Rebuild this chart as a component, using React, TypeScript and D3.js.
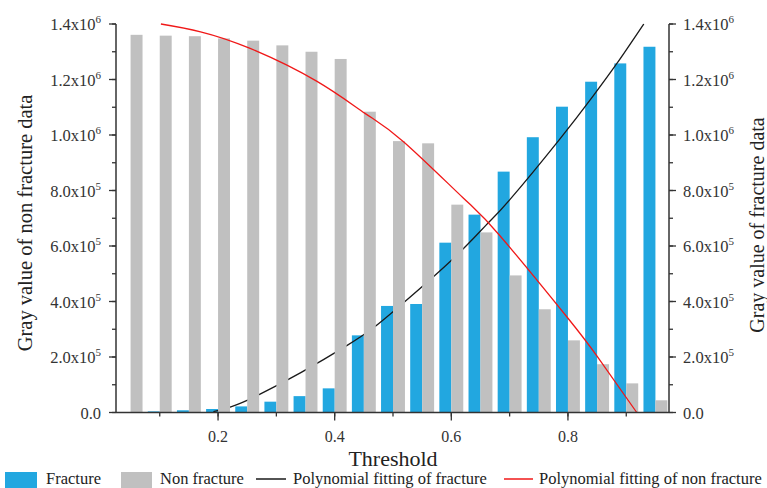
import React from 'react';
import * as d3 from 'd3';

const thresholds = [0.05, 0.1, 0.15, 0.2, 0.25, 0.3, 0.35, 0.4, 0.45, 0.5, 0.55, 0.6, 0.65, 0.7, 0.75, 0.8, 0.85, 0.9, 0.95];
const fracture = [1500, 4000, 8000, 12600, 22000, 39000, 59000, 87000, 278000, 384000, 391000, 612000, 713000, 868000, 992000, 1102000, 1192000, 1258000, 1318000];
const nonFracture = [1361000, 1358000, 1356000, 1348000, 1340000, 1323000, 1300000, 1274000, 1084000, 978000, 970000, 749000, 649000, 494000, 372000, 260000, 174000, 105000, 44000];

const fitFractureX = [0.192, 0.272, 0.42, 0.5, 0.598, 0.66, 0.7, 0.786, 0.843, 0.883, 0.93];
const fitFractureY = [3000, 66000, 240000, 363000, 544000, 676000, 766000, 985000, 1140000, 1255000, 1400000];
const fitNonX = [0.102, 0.17, 0.255, 0.369, 0.452, 0.518, 0.62, 0.683, 0.798, 0.852, 0.918];
const fitNonY = [1400000, 1372000, 1312000, 1194000, 1078000, 976000, 774000, 638000, 345000, 197000, 0];

const legendLabels = ['Fracture', 'Non fracture', 'Polynomial fitting of fracture', 'Polynomial fitting of non fracture'];

const BLUE = '#22A7E0';
const GRAY = '#C0C0C0';
const FONT = "'Liberation Serif', 'Times New Roman', serif";

function fmt(v: number): [string, string] {
  if (v === 0) return ['0.0', ''];
  const e = Math.floor(Math.log10(v) + 1e-9);
  const m = v / Math.pow(10, e);
  return [m.toFixed(1) + 'x10', String(e)];
}

export default function App() {
  const W = 767, H = 488;
  const x = d3.scaleLinear().domain([0.025, 0.975]).range([116, 670]);
  const y = d3.scaleLinear().domain([0, 1.4e6]).range([412.5, 24]);
  const step = x(0.05) - x(0);
  const bw = step * 0.41;
  const x0 = x.range()[0], x1 = 669;
  const yTop = y(1.4e6), yBot = y(0);

  const line = d3.line<[number, number]>().x(d => x(d[0])).y(d => y(d[1])).curve(d3.curveNatural);
  const fracPts = fitFractureX.map((t, i) => [t, fitFractureY[i]] as [number, number]);
  const nonPts = fitNonX.map((t, i) => [t, fitNonY[i]] as [number, number]);

  const yMajor = y.ticks(7);
  const yMinor = y.ticks(14);
  const xMajor = x.ticks(5);
  const xMinor = x.ticks(10);
  const axisColor = '#333';

  return (
    <svg width={W} height={H} style={{ position: 'absolute', left: 0, top: 0, background: '#fff' }} fontFamily={FONT}>
      {/* fracture bars */}
      {thresholds.map((t, i) => (
        <rect key={'f' + i} x={x(t) - bw} y={y(fracture[i])} width={bw} height={yBot - y(fracture[i])} fill={BLUE} />
      ))}
      <path d={line(fracPts) || ''} fill="none" stroke="#1a1a1a" strokeWidth={1.3} />
      {/* non fracture bars */}
      {thresholds.map((t, i) => (
        <rect key={'n' + i} x={x(t)} y={y(nonFracture[i])} width={bw} height={yBot - y(nonFracture[i])} fill={GRAY} />
      ))}
      <path d={line(nonPts) || ''} fill="none" stroke="#F01818" strokeWidth={1.3} />

      {/* axes lines */}
      <line x1={x0} x2={x0} y1={yTop} y2={yBot} stroke={axisColor} strokeWidth={1.5} />
      <line x1={x1} x2={x1} y1={yTop} y2={yBot} stroke={axisColor} strokeWidth={1.5} />
      <line x1={x0} x2={x1} y1={yBot} y2={yBot} stroke={axisColor} strokeWidth={1.5} />

      {/* y ticks */}
      {yMinor.map(v => (
        <g key={'ym' + v}>
          <line x1={x0 - 4} x2={x0} y1={y(v)} y2={y(v)} stroke={axisColor} strokeWidth={1.3} />
          <line x1={x1} x2={x1 + 4} y1={y(v)} y2={y(v)} stroke={axisColor} strokeWidth={1.3} />
        </g>
      ))}
      {yMajor.map(v => {
        const [m, e] = fmt(v);
        return (
          <g key={'yM' + v}>
            <line x1={x0 - 7} x2={x0} y1={y(v)} y2={y(v)} stroke={axisColor} strokeWidth={1.3} />
            <line x1={x1} x2={x1 + 7} y1={y(v)} y2={y(v)} stroke={axisColor} strokeWidth={1.3} />
            <text x={101} y={y(v) + 6} textAnchor="end" fontSize={16.5} fill="#333">
              {m}{e && <tspan fontSize={11} dy={-7}>{e}</tspan>}
            </text>
            <text x={683} y={y(v) + 6} textAnchor="start" fontSize={16.5} fill="#333">
              {m}{e && <tspan fontSize={11} dy={-7}>{e}</tspan>}
            </text>
          </g>
        );
      })}

      {/* x ticks */}
      {xMinor.map(v => (
        <line key={'xm' + v} x1={x(v)} x2={x(v)} y1={yBot} y2={yBot + 4} stroke={axisColor} strokeWidth={1.3} />
      ))}
      {xMajor.map(v => (
        <g key={'xM' + v}>
          <line x1={x(v)} x2={x(v)} y1={yBot} y2={yBot + 8} stroke={axisColor} strokeWidth={1.3} />
          <text x={x(v)} y={442} textAnchor="middle" fontSize={16} fill="#333">{v.toFixed(1)}</text>
        </g>
      ))}

      {/* axis titles */}
      <text x={393} y={466} textAnchor="middle" fontSize={22} fill="#222">Threshold</text>
      <text transform={`translate(32,223) rotate(-90)`} textAnchor="middle" fontSize={20.5} fill="#222">Gray value of non fracture data</text>
      <text transform={`translate(764,225) rotate(-90)`} textAnchor="middle" fontSize={20} fill="#222">Gray value of fracture data</text>

      {/* legend */}
      <rect x={5} y={472} width={32} height={18} fill={BLUE} />
      <text x={46} y={484} fontSize={16.5} fill="#222">{legendLabels[0]}</text>
      <rect x={121} y={472} width={31} height={18} fill={GRAY} />
      <text x={160} y={484} fontSize={16.5} fill="#222">{legendLabels[1]}</text>
      <line x1={256} x2={286} y1={479} y2={479} stroke="#1a1a1a" strokeWidth={1.5} />
      <text x={293} y={484} fontSize={16.5} fill="#222">{legendLabels[2]}</text>
      <line x1={504} x2={533} y1={479} y2={479} stroke="#F01818" strokeWidth={1.5} />
      <text x={539} y={484} fontSize={16.5} fill="#222">{legendLabels[3]}</text>
    </svg>
  );
}
